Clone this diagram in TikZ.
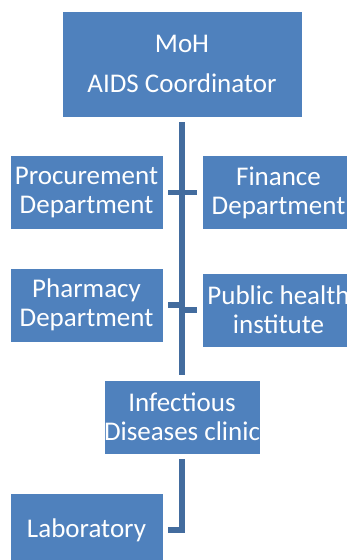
\documentclass[tikz,border=0pt]{standalone}
\usepackage{fontspec}
\setmainfont{Carlito}
\definecolor{boxblue}{HTML}{4F81BD}
\definecolor{linkblue}{HTML}{436C9E}
\begin{document}
\begin{tikzpicture}[x=1pt,y=-1pt,
  unit/.style={rectangle, fill=boxblue, draw=white, line width=0.6pt,
    text=white, align=center, inner sep=0pt,
    minimum width=153pt, minimum height=74pt,
    font=\fontsize{27}{29}\selectfont},
  link/.style={draw=linkblue, line width=5.5pt},
  gap/.style={shorten <=5pt, shorten >=5pt}]
\clip (0,0) rectangle (347,560);
\fill[white] (0,0) rectangle (347,560);

% boxes
\node[unit, minimum width=240pt, minimum height=106pt] (top) at (182,64)
  {MoH\\[11pt]AIDS Coordinator};
\node[unit] (proc)  at (86.5,192.5)  {Procurement\\Department};
\node[unit] (fin)   at (278.5,192.5) {Finance\\Department};
\node[unit] (pharm) at (86.5,305)    {Pharmacy\\Department};
\node[unit] (pub)   at (278.5,310)   {Public health\\institute};
\node[unit] (inf)   at (182,417)     {Infectious\\Diseases clinic};
\node[unit] (lab)   at (86.5,530)    {Laboratory};

% trunk from the coordinator down to the clinic
\draw[link, gap] (top.south) -- (inf.north);
% side branches
\draw[link, gap] (proc.east) -- (fin.west);
\draw[link, shorten <=5pt] (pharm.east) -- (pharm.east -| top.south);
\draw[link, shorten <=5pt] (pub.west) -- (pub.west -| top.south);
% clinic to laboratory
\draw[link, gap] (inf.south) |- (lab.east);
\end{tikzpicture}
\end{document}
